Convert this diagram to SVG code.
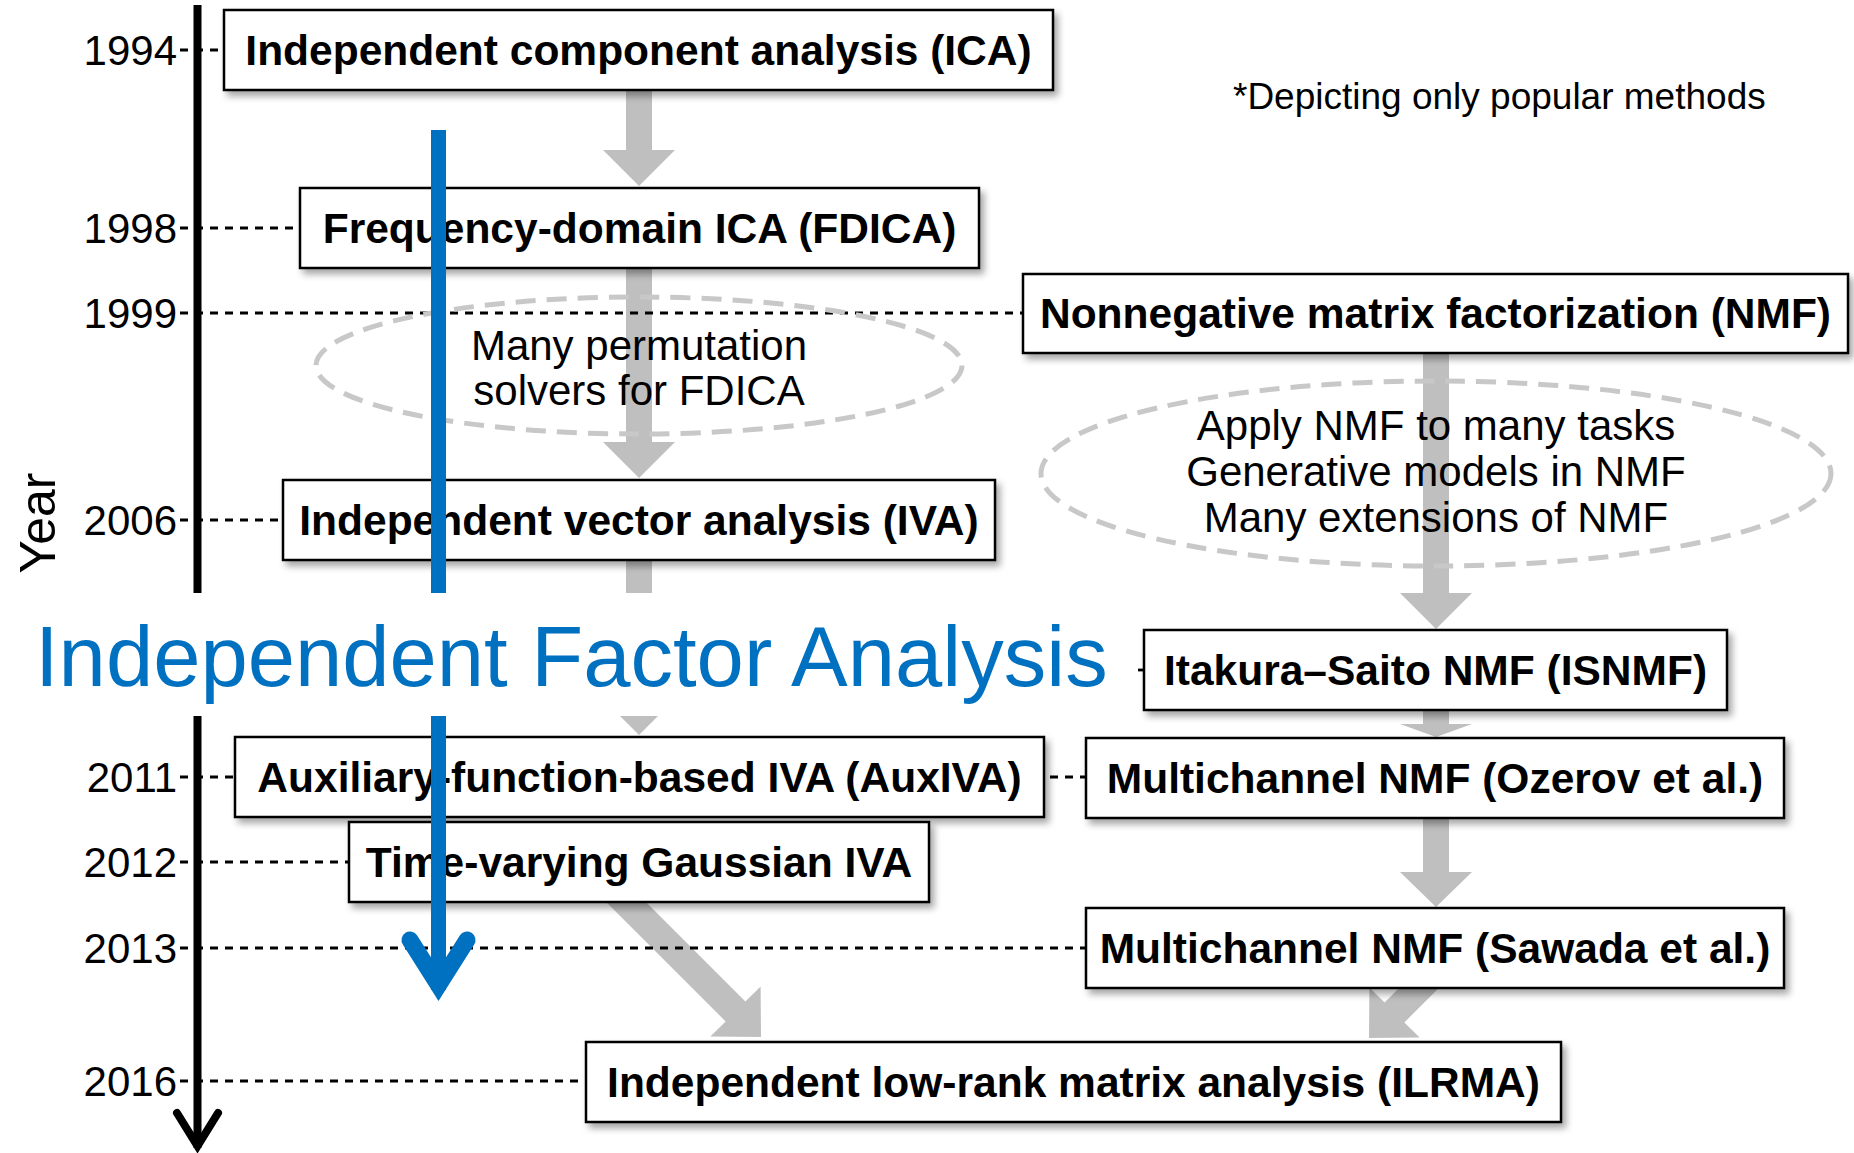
<svg xmlns="http://www.w3.org/2000/svg" width="1854" height="1153" viewBox="0 0 1854 1153">
<defs>
<style>
.box{fill:#fff;stroke:#000;stroke-width:2.5;filter:url(#sh)}
.lbl{font-family:"Liberation Sans",Arial,sans-serif;font-weight:bold;font-size:42.5px;fill:#000;text-anchor:middle}
.yr{font-family:"Liberation Sans",Arial,sans-serif;font-size:42px;fill:#000;text-anchor:end}
.note{font-family:"Liberation Sans",Arial,sans-serif;font-size:42px;fill:#000;text-anchor:middle}
.dash{stroke:#000;stroke-width:2.8;stroke-dasharray:8 7;fill:none}
.garrow{fill:#bfbfbf}
.ell{fill:none;stroke:#c8c8c8;stroke-width:5;stroke-dasharray:20 11}
</style>
<filter id="sh" x="-5%" y="-20%" width="112%" height="150%">
<feDropShadow dx="4" dy="5" stdDeviation="3.5" flood-color="#000" flood-opacity="0.35"/>
</filter>
</defs>
<rect width="1854" height="1153" fill="#fff"/>

<g id="connectors">
<polygon class="garrow" points="626,88 652,88 652,150 675,150 639,186 603,150 626,150"/>
<polygon class="garrow" points="626,266 652,266 652,442 675,442 639,478 603,442 626,442"/>
<polygon class="garrow" points="626,558 652,558 652,699 675,699 639,735 603,699 626,699"/>
<polygon class="garrow" points="1423,351 1449,351 1449,593 1472,593 1436,629 1400,593 1423,593"/>
<polygon class="garrow" points="1423,706 1449,706 1449,724 1472,724 1436,737 1400,724 1423,724"/>
<polygon class="garrow" points="1423,815 1449,815 1449,872 1472,872 1436,907 1400,872 1423,872"/>
<polygon class="garrow" points="618.9,875.1 745.4,1001.6 760.6,986.4 761,1037 710.4,1036.6 725.6,1021.4 599.1,894.9"/>
<polygon class="garrow" points="1437.1,950.1 1384.6,1002.6 1369.4,987.4 1369,1038 1419.6,1037.6 1404.4,1022.4 1456.9,969.9"/>
<line class="dash" x1="180" y1="50" x2="224" y2="50"/>
<line class="dash" x1="180" y1="228" x2="300" y2="228"/>
<line class="dash" x1="180" y1="313" x2="1023" y2="313"/>
<line class="dash" x1="180" y1="520" x2="283" y2="520"/>
<line class="dash" x1="180" y1="777" x2="1086" y2="777"/>
<line class="dash" x1="180" y1="862" x2="349" y2="862"/>
<line class="dash" x1="180" y1="948" x2="1086" y2="948"/>
<line class="dash" x1="180" y1="1081" x2="586" y2="1081"/>
<line stroke="#000" stroke-width="2.8" x1="1138" y1="670" x2="1145" y2="670"/>
</g>

<g id="ellipse-fdica">
<ellipse class="ell" cx="639" cy="365.5" rx="323" ry="68.5"/>
<text class="note" x="639" y="360">Many permutation</text>
<text class="note" x="639" y="405">solvers for FDICA</text>
</g>
<g id="ellipse-nmf">
<ellipse class="ell" cx="1436" cy="473.5" rx="395" ry="92.5"/>
<text class="note" x="1436" y="440">Apply NMF to many tasks</text>
<text class="note" x="1436" y="486">Generative models in NMF</text>
<text class="note" x="1436" y="532">Many extensions of NMF</text>
</g>

<g id="node-ica"><rect class="box" x="224" y="10" width="829" height="80"/><text class="lbl" x="638.5" y="65">Independent component analysis (ICA)</text></g>
<g id="node-fdica"><rect class="box" x="300" y="188" width="679" height="80"/><text class="lbl" x="639.5" y="243">Frequency-domain ICA (FDICA)</text></g>
<g id="node-nmf"><rect class="box" x="1023" y="274" width="825" height="79"/><text class="lbl" x="1435.5" y="328">Nonnegative matrix factorization (NMF)</text></g>
<g id="node-iva"><rect class="box" x="283" y="480" width="712" height="80"/><text class="lbl" x="639" y="535">Independent vector analysis (IVA)</text></g>
<g id="node-isnmf"><rect class="box" x="1144" y="630" width="583" height="80"/><text class="lbl" x="1435.5" y="685">Itakura–Saito NMF (ISNMF)</text></g>
<g id="node-auxiva"><rect class="box" x="235" y="737" width="809" height="80"/><text class="lbl" x="639.5" y="792">Auxiliary-function-based IVA (AuxIVA)</text></g>
<g id="node-ozerov"><rect class="box" x="1086" y="738" width="698" height="80"/><text class="lbl" x="1435" y="793">Multichannel NMF (Ozerov et al.)</text></g>
<g id="node-tvgiva"><rect class="box" x="349" y="822" width="580" height="80"/><text class="lbl" x="639" y="877">Time-varying Gaussian IVA</text></g>
<g id="node-sawada"><rect class="box" x="1086" y="908" width="698" height="80"/><text class="lbl" x="1435" y="963">Multichannel NMF (Sawada et al.)</text></g>
<g id="node-ilrma"><rect class="box" x="586" y="1042" width="975" height="80"/><text class="lbl" x="1073.5" y="1097">Independent low-rank matrix analysis (ILRMA)</text></g>

<g id="timeline">
<line x1="197.5" y1="5" x2="197.5" y2="593" stroke="#000" stroke-width="8"/>
<line x1="197.5" y1="716" x2="197.5" y2="1148" stroke="#000" stroke-width="8"/>
<polyline points="177,1113 197.5,1146 218,1113" fill="none" stroke="#000" stroke-width="8" stroke-linecap="round" stroke-miterlimit="10"/>
<text class="yr" x="177" y="65">1994</text>
<text class="yr" x="177" y="243">1998</text>
<text class="yr" x="177" y="328">1999</text>
<text class="yr" x="177" y="535">2006</text>
<text class="yr" x="177" y="792">2011</text>
<text class="yr" x="177" y="877">2012</text>
<text class="yr" x="177" y="963">2013</text>
<text class="yr" x="177" y="1096">2016</text>
<text x="55" y="523" transform="rotate(-90 55 523)" font-family="Liberation Sans, Arial, sans-serif" font-size="50" text-anchor="middle" fill="#000">Year</text>
</g>

<rect x="0" y="593" width="1138" height="123" fill="#fff"/>

<g id="ifa">
<text x="35" y="686" font-family="Liberation Sans, Arial, sans-serif" font-size="85" fill="#0070c0">Independent Factor Analysis</text>
<line x1="438.5" y1="130" x2="438.5" y2="593" stroke="#0070c0" stroke-width="15"/>
<line x1="438.5" y1="716" x2="438.5" y2="990" stroke="#0070c0" stroke-width="15"/>
<polyline points="410,940 438.5,985 467,940" fill="none" stroke="#0070c0" stroke-width="17" stroke-linecap="round" stroke-miterlimit="10"/>
</g>

<text x="1233" y="109" font-family="Liberation Sans, Arial, sans-serif" font-size="37" fill="#000">*Depicting only popular methods</text>
</svg>
